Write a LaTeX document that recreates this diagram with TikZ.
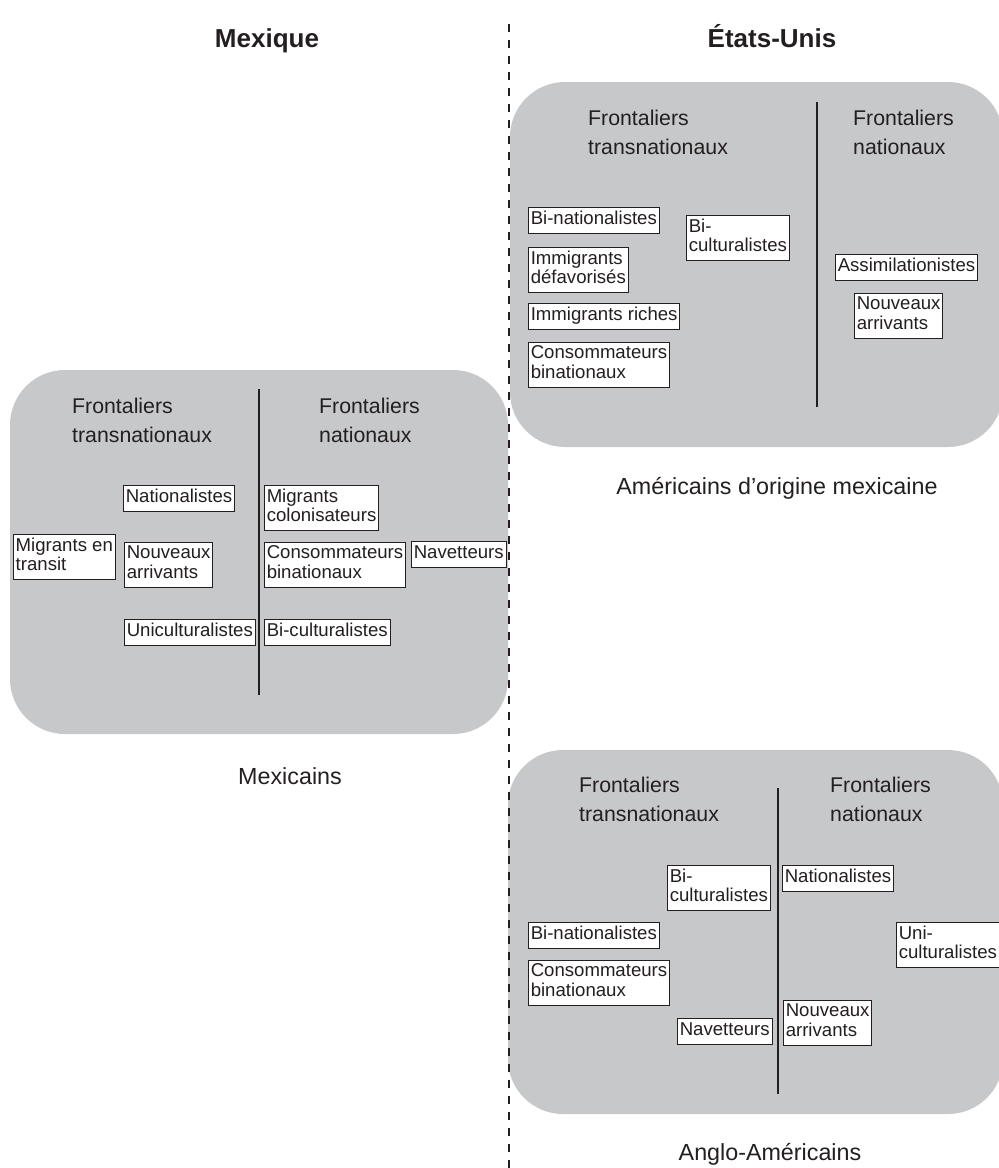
\documentclass[tikz,border=0pt]{standalone}
\usepackage{fontspec}
\setmainfont{Liberation Sans}
\usepackage{tikz}
\definecolor{panelgray}{RGB}{199,200,202}
\definecolor{ink}{RGB}{35,31,32}

\begin{document}
\begin{tikzpicture}[x=1pt,y=-1pt,
  panel/.style={fill=panelgray,rounded corners=55pt},
  divider/.style={draw=ink,line width=1.4pt},
  lbl/.style={anchor=north west,draw=ink,fill=white,line width=0.9pt,text=ink,align=left,
    inner xsep=2.3pt,inner ysep=3.25pt,font=\fontsize{18.6}{19.5}\selectfont,
    execute at begin node=\strut,execute at end node=\strut},
  head/.style={anchor=north west,inner sep=0pt,text=ink,align=left,
    font=\fontsize{21.3}{29}\selectfont,execute at begin node=\strut},
  group/.style={anchor=base,inner sep=0pt,text=ink,font=\fontsize{23.3}{28}\selectfont},
  country/.style={anchor=base,inner sep=0pt,text=ink,font=\fontsize{26}{30}\selectfont\bfseries}]
\useasboundingbox (0,0) rectangle (999,1168);

% panels
\path[panel] (10,370) rectangle (508,734);
\path[panel] (510,82) rectangle (1003,447);
\path[panel] (508,750) rectangle (1003,1114);

\draw[divider] (259,389) -- (259,695);
\draw[divider] (817,102) -- (817,407);
\draw[divider] (778,788) -- (778,1094);

% titles
\path (267,47) node (mexique) [country] {Mexique};
\path (772,47) node (etatsunis) [country] {États-Unis};

% Mexicains
\path (72,398) node (mxtrans) [head] {Frontaliers\\transnationaux};
\path (319,398) node (mxnatio) [head] {Frontaliers\\nationaux};
\path (123,485) node (mxnat) [lbl] {Nationalistes};
\path (13,534) node (mxtransit) [lbl] {Migrants en\\transit};
\path (124,542) node (mxnouv) [lbl] {Nouveaux\\arrivants};
\path (124,619) node (mxuni) [lbl] {Uniculturalistes};
\path (264,485) node (mxcolon) [lbl] {Migrants\\colonisateurs};
\path (264,542) node (mxconso) [lbl] {Consommateurs\\binationaux};
\path (411,541) node (mxnav) [lbl] {Navetteurs};
\path (264,619) node (mxbicult) [lbl] {Bi-culturalistes};
\path (290,784) node (mexicains) [group] {Mexicains};

% Americains d'origine mexicaine
\path (588,110) node (matrans) [head] {Frontaliers\\transnationaux};
\path (853,110) node (manatio) [head] {Frontaliers\\nationaux};
\path (528,207) node (mabinat) [lbl] {Bi-nationalistes};
\path (528,247) node (madefav) [lbl] {Immigrants\\défavorisés};
\path (528,303) node (mariches) [lbl] {Immigrants riches};
\path (528,342) node (maconso) [lbl] {Consommateurs\\binationaux};
\path (686,215) node (mabicult) [lbl] {Bi-\\culturalistes};
\path (835,254) node (maassim) [lbl] {Assimilationistes};
\path (854,293) node (manouv) [lbl] {Nouveaux\\arrivants};
\path (777,494) node (americains) [group] {Américains d’origine mexicaine};

% Anglo-Americains
\path (579,777) node (aatrans) [head] {Frontaliers\\transnationaux};
\path (830,777) node (aanatio) [head] {Frontaliers\\nationaux};
\path (667,865) node (aabicult) [lbl] {Bi-\\culturalistes};
\path (782,865) node (aanat) [lbl] {Nationalistes};
\path (528,922) node (aabinat) [lbl] {Bi-nationalistes};
\path (896,922) node (aauni) [lbl] {Uni-\\culturalistes};
\path (528,960) node (aaconso) [lbl] {Consommateurs\\binationaux};
\path (677,1018) node (aanav) [lbl] {Navetteurs};
\path (783,1000) node (aanouv) [lbl] {Nouveaux\\arrivants};
\path (770,1160) node (anglo) [group] {Anglo-Américains};

% frontiere
\draw[ink,line width=1.7pt,dash pattern=on 7.5pt off 8.5pt] (509,24) -- (509,1168);
\end{tikzpicture}
\end{document}
